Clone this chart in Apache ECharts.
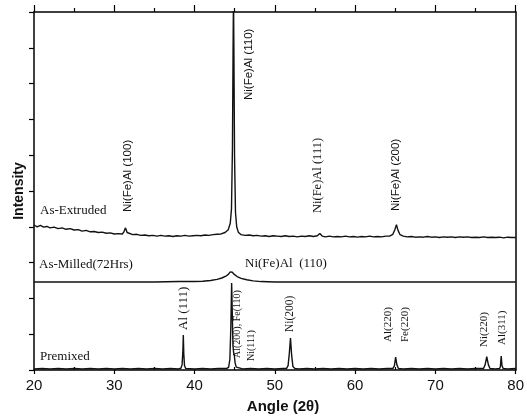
<!DOCTYPE html>
<html>
<head>
<meta charset="utf-8">
<script src="https://cdn.jsdelivr.net/npm/echarts@6/dist/echarts.min.js"></script>
<style>
html,body{margin:0;padding:0;background:#fff;}
#chart{width:527px;height:416px;}
</style>
</head>
<body>
<div id="chart"></div>
<script>
// ---- data (angle 2θ, stacked intensity units) ----
var seriesNames = ['As-Extruded', 'As-Milled(72Hrs)', 'Premixed'];

var asExtruded = [
[20.0,4.05],[20.4,4.00],[20.8,4.04],[21.2,3.99],[21.6,4.01],[22.0,3.97],[22.5,3.99],[23.0,3.95],[23.5,3.97],[24.0,3.93],
[24.5,3.95],[25.0,3.91],[25.5,3.92],[26.0,3.88],[26.5,3.90],[27.0,3.86],[27.5,3.87],[28.0,3.84],[28.5,3.85],[29.0,3.82],
[29.5,3.83],[30.0,3.80],[30.5,3.81],[31.0,3.80],[31.2,3.86],[31.4,3.97],[31.6,3.84],[31.8,3.79],[32.3,3.78],[32.8,3.79],
[33.3,3.76],[33.8,3.77],[34.3,3.75],[34.8,3.76],[35.3,3.74],[35.8,3.76],[36.3,3.74],[36.8,3.75],[37.3,3.73],[37.8,3.75],
[38.3,3.74],[38.8,3.76],[39.3,3.74],[39.8,3.75],[40.3,3.76],[40.8,3.75],[41.3,3.77],[41.8,3.76],[42.3,3.78],[42.8,3.79],
[43.3,3.80],[43.8,3.84],[44.2,3.92],[44.45,4.10],[44.6,4.50],[44.72,6.20],[44.8,9.0],[44.85,10.5],[44.9,9.0],[44.98,6.0],
[45.1,4.40],[45.25,4.00],[45.45,3.85],[45.8,3.78],[46.3,3.76],[46.8,3.77],[47.3,3.75],[47.8,3.76],[48.3,3.74],[48.8,3.75],
[49.3,3.73],[49.8,3.75],[50.3,3.74],[50.8,3.73],[51.3,3.75],[51.8,3.73],[52.3,3.74],[52.8,3.72],[53.3,3.74],[53.8,3.73],
[54.3,3.75],[54.8,3.73],[55.3,3.75],[55.6,3.81],[55.9,3.74],[56.3,3.72],[56.8,3.74],[57.3,3.72],[57.8,3.73],[58.3,3.72],
[58.8,3.74],[59.3,3.72],[59.8,3.73],[60.3,3.71],[60.8,3.73],[61.3,3.72],[61.8,3.74],[62.3,3.72],[62.8,3.73],[63.3,3.72],
[63.8,3.74],[64.3,3.74],[64.7,3.79],[64.95,3.92],[65.15,4.06],[65.35,3.90],[65.6,3.78],[66.0,3.74],[66.5,3.72],[67.0,3.73],
[67.5,3.71],[68.0,3.72],[68.5,3.71],[69.0,3.73],[69.5,3.71],[70.0,3.72],[70.5,3.70],[71.0,3.72],[71.5,3.71],[72.0,3.72],
[72.5,3.70],[73.0,3.72],[73.5,3.71],[74.0,3.72],[74.5,3.70],[75.0,3.71],[75.5,3.70],[76.0,3.72],[76.5,3.70],[77.0,3.71],
[77.5,3.70],[78.0,3.71],[78.5,3.69],[79.0,3.71],[79.5,3.70],[80.0,3.70]
];

var asMilled = [
[20,2.46],[25,2.46],[30,2.46],[35,2.46],[38,2.47],[40,2.47],[41,2.48],[42,2.50],[42.8,2.53],[43.4,2.57],
[43.9,2.62],[44.2,2.67],[44.45,2.74],[44.55,2.77],[44.7,2.73],[44.95,2.67],[45.3,2.61],[45.8,2.56],[46.5,2.52],[47.3,2.49],
[48.3,2.47],[50,2.46],[55,2.46],[60,2.46],[65,2.46],[70,2.46],[75,2.46],[80,2.46]
];

var premixed = [
[20,0.03],[21,0.04],[22,0.03],[23,0.04],[24,0.03],[25,0.04],[26,0.03],[27,0.04],[28,0.03],[29,0.04],
[30,0.03],[31,0.04],[32,0.03],[33,0.04],[34,0.03],[35,0.04],[36,0.03],[37,0.04],[38,0.03],[38.3,0.05],
[38.45,0.15],[38.55,0.55],[38.6,0.98],[38.66,0.45],[38.75,0.12],[38.9,0.04],[40,0.03],[41,0.04],[42,0.03],[43,0.04],
[44,0.04],[44.25,0.08],[44.4,0.30],[44.52,1.20],[44.62,2.43],[44.7,1.60],[44.78,0.70],[44.86,0.50],[44.95,0.42],[45.05,0.20],
[45.2,0.08],[45.4,0.04],[46,0.03],[47,0.04],[48,0.03],[49,0.04],[50,0.03],[51,0.04],[51.45,0.04],[51.65,0.12],
[51.8,0.45],[51.95,0.89],[52.1,0.40],[52.25,0.10],[52.5,0.04],[53,0.03],[54,0.04],[55,0.03],[56,0.04],[57,0.03],
[58,0.04],[59,0.03],[60,0.04],[61,0.03],[62,0.04],[63,0.03],[64,0.04],[64.7,0.04],[64.9,0.12],[65.05,0.36],
[65.2,0.15],[65.4,0.04],[66,0.03],[67,0.04],[68,0.03],[69,0.04],[70,0.03],[71,0.04],[72,0.03],[73,0.04],
[74,0.03],[75,0.04],[76,0.04],[76.2,0.15],[76.4,0.37],[76.6,0.15],[76.8,0.04],[77.5,0.03],[78.0,0.04],[78.1,0.10],
[78.2,0.39],[78.3,0.12],[78.45,0.04],[79,0.03],[80,0.04]
];

var xTickLabels = [20, 30, 40, 50, 60, 70, 80];
var peakLabelsTop = ['Ni(Fe)Al (110)', 'Ni(Fe)Al (100)', 'Ni(Fe)Al (111)', 'Ni(Fe)Al (200)'];
var milledPeakLabel = 'Ni(Fe)Al  (110)';
var premixedPeakLabels = ['Al (111)', 'Al(200), Fe(110)', 'Ni(111)', 'Ni(200)', 'Al(220)', 'Fe(220)', 'Ni(220)', 'Al(311)'];
var xAxisTitle = 'Angle (2\u03b8)';
var yAxisTitle = 'Intensity';

// ---- chart ----
var chart = echarts.init(document.getElementById('chart'), null, {renderer: 'canvas'});
var SANS = '"Liberation Sans", Arial, Helvetica, sans-serif';
var SERIF = '"Liberation Serif", "Times New Roman", serif';

function vText(txt, x, yBottom, size, fam) {
  return {type: 'text', x: x, y: yBottom, rotation: Math.PI / 2,
    style: {text: txt, font: size + 'px ' + fam, fill: '#111', align: 'left', verticalAlign: 'middle'}};
}
function hText(txt, x, y, size, fam, weight) {
  return {type: 'text', x: x, y: y,
    style: {text: txt, font: (weight || 'normal') + ' ' + size + 'px ' + fam, fill: '#111', align: 'left', verticalAlign: 'middle'}};
}

var axisLineStyle = {color: '#000', width: 1.5};
var tickStyle = {color: '#000', width: 1.2};

var option = {
  backgroundColor: '#fff',
  animation: false,
  grid: {left: 34, right: 10, top: 12, bottom: 46, containLabel: false},
  xAxis: [
    {type: 'value', position: 'bottom', min: 20, max: 80, interval: 10,
      axisLine: {show: true, onZero: false, lineStyle: axisLineStyle},
      axisTick: {show: true, inside: false, length: 4, lineStyle: tickStyle},
      axisLabel: {show: true, margin: 8, color: '#111', fontSize: 15, fontFamily: SANS,
        formatter: function (v) { return xTickLabels.indexOf(v) >= 0 ? String(v) : ''; }},
      splitLine: {show: false}},
    {type: 'value', position: 'top', min: 20, max: 80, interval: 10,
      axisLine: {show: true, onZero: false, lineStyle: axisLineStyle},
      axisTick: {show: true, inside: false, length: 7, lineStyle: tickStyle},
      minorTick: {show: true, splitNumber: 2, length: 4, lineStyle: tickStyle},
      axisLabel: {show: false}, splitLine: {show: false}},
    {type: 'value', position: 'bottom', min: 20, max: 80, interval: 10,
      axisLine: {show: false, onZero: false},
      axisTick: {show: false, inside: true},
      minorTick: {show: true, splitNumber: 2, length: 3, lineStyle: tickStyle},
      axisLabel: {show: false}, splitLine: {show: false}}
  ],
  yAxis: [
    {type: 'value', position: 'left', min: 0, max: 10, interval: 1,
      name: yAxisTitle, nameLocation: 'middle', nameGap: 8,
      nameTextStyle: {fontFamily: SANS, fontSize: 14, fontWeight: 'bold', color: '#111'},
      axisLine: {show: true, onZero: false, lineStyle: axisLineStyle},
      axisTick: {show: true, inside: false, length: 5, lineStyle: tickStyle},
      axisLabel: {show: false}, splitLine: {show: false}},
    {type: 'value', position: 'right', min: 0, max: 10, interval: 1,
      axisLine: {show: true, onZero: false, lineStyle: axisLineStyle},
      axisTick: {show: false}, axisLabel: {show: false}, splitLine: {show: false}}
  ],
  series: [
    {name: seriesNames[0], type: 'line', data: asExtruded, showSymbol: false, symbol: 'none',
      lineStyle: {color: '#111', width: 1.4}, xAxisIndex: 0, yAxisIndex: 0, clip: true},
    {name: seriesNames[1], type: 'line', data: asMilled, showSymbol: false, symbol: 'none',
      lineStyle: {color: '#111', width: 1.4}, xAxisIndex: 0, yAxisIndex: 0, clip: true},
    {name: seriesNames[2], type: 'line', data: premixed, showSymbol: false, symbol: 'none',
      lineStyle: {color: '#111', width: 1.4}, xAxisIndex: 0, yAxisIndex: 0, clip: true}
  ],
  graphic: [
    vText(peakLabelsTop[0], 249, 100, 11.5, SANS),
    vText(peakLabelsTop[1], 128, 212, 11.5, SANS),
    vText(peakLabelsTop[2], 318, 213, 12.5, SERIF),
    vText(peakLabelsTop[3], 396, 211, 11.5, SANS),
    hText(seriesNames[0], 40, 211, 13, SERIF),
    hText(seriesNames[1], 39, 265, 13, SERIF),
    hText(milledPeakLabel, 245, 264, 13, SERIF),
    hText(seriesNames[2], 40, 357, 13, SERIF),
    vText(premixedPeakLabels[0], 184, 330, 13, SERIF),
    vText(premixedPeakLabels[1], 237, 358, 10, SERIF),
    vText(premixedPeakLabels[2], 251, 361, 10, SERIF),
    vText(premixedPeakLabels[3], 290, 332, 11.5, SERIF),
    vText(premixedPeakLabels[4], 388, 342, 11, SERIF),
    vText(premixedPeakLabels[5], 405, 342, 11, SERIF),
    vText(premixedPeakLabels[6], 484, 347, 11, SERIF),
    vText(premixedPeakLabels[7], 502, 345, 11, SERIF),
    {type: 'text', x: 283, y: 407,
      style: {text: xAxisTitle, font: 'bold 15px ' + SANS, fill: '#111', align: 'center', verticalAlign: 'middle'}}
  ]
};
chart.setOption(option);
</script>
</body>
</html>
